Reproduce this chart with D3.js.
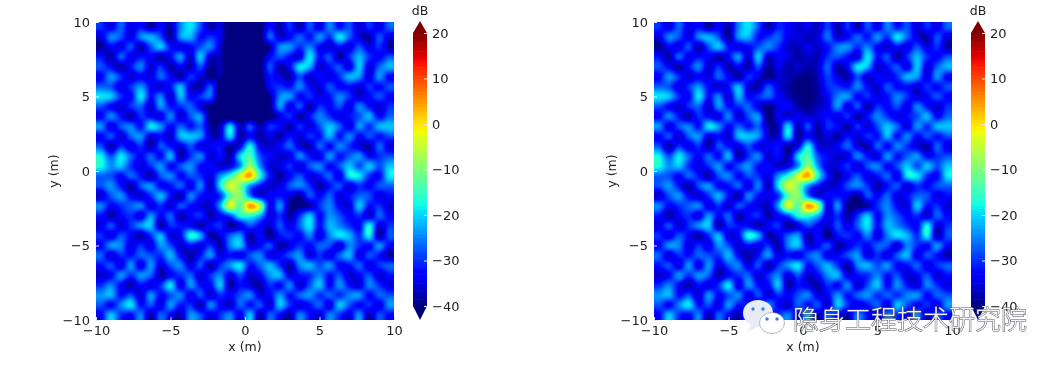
<!DOCTYPE html>
<html>
<head>
<meta charset="utf-8">
<script src="https://cdn.jsdelivr.net/npm/d3@7"></script>
<style>
html, body { margin: 0; background: #fff; overflow: hidden; }
#wrap { position: relative; width: 1060px; height: 366px; }
canvas { position: absolute; filter: blur(0.6px); }
svg { position: absolute; left: 0; top: 0; filter: blur(0.35px); }
text { font-family: "DejaVu Sans", sans-serif; fill: #222; }
</style>
</head>
<body>
<div id="wrap"></div>
<script>
// dB values, one cell = 10px, top row first
const gridLeft = [
[-30,-35,-27,-35,-32,-38,-33,-38,-25,-19,-28,-38,-35,-44,-44,-44,-42,-32,-38,-30,-38,-28,-35,-25,-32,-28,-36,-30,-35,-27],
[-35,-25,-28,-35,-25,-22,-28,-39,-24,-22,-32,-30,-34,-44,-44,-44,-42,-27,-36,-33,-27,-32,-24,-30,-19,-27,-35,-38,-28,-35],
[-39,-33,-35,-28,-38,-28,-21,-32,-35,-33,-28,-25,-36,-44,-44,-44,-42,-38,-25,-24,-30,-25,-33,-36,-32,-35,-28,-35,-30,-38],
[-32,-38,-27,-35,-32,-33,-38,-33,-24,-36,-21,-36,-37,-44,-44,-44,-42,-33,-28,-32,-35,-19,-32,-28,-38,-30,-22,-30,-33,-28],
[-28,-33,-38,-32,-25,-36,-30,-38,-33,-38,-28,-39,-37,-44,-44,-44,-42,-28,-38,-33,-19,-22,-36,-32,-28,-35,-21,-35,-27,-22],
[-33,-24,-30,-36,-33,-35,-27,-33,-38,-30,-35,-40,-38,-44,-44,-44,-42,-32,-35,-38,-28,-36,-32,-35,-30,-22,-24,-35,-24,-33],
[-27,-28,-35,-30,-24,-33,-36,-32,-22,-35,-38,-28,-42,-44,-44,-44,-44,-33,-30,-32,-25,-33,-36,-28,-33,-32,-35,-30,-33,-28],
[-19,-21,-30,-33,-19,-32,-25,-36,-22,-33,-30,-27,-43,-44,-44,-44,-44,-39,-25,-24,-33,-30,-35,-32,-25,-30,-36,-33,-28,-33],
[-28,-33,-36,-30,-27,-36,-24,-32,-30,-27,-35,-40,-43,-44,-44,-44,-44,-40,-24,-35,-28,-38,-30,-33,-28,-35,-25,-32,-36,-30],
[-33,-25,-32,-38,-30,-33,-35,-25,-36,-28,-24,-41,-44,-44,-44,-44,-44,-41,-35,-30,-38,-32,-25,-30,-35,-32,-28,-22,-33,-27],
[-24,-35,-28,-25,-32,-19,-24,-33,-27,-32,-27,-38,-37,-20,-37,-28,-38,-30,-33,-38,-30,-36,-28,-21,-27,-35,-24,-30,-22,-21],
[-33,-28,-36,-27,-24,-35,-32,-36,-22,-21,-24,-36,-36,-20,-38,-33,-38,-35,-38,-32,-36,-30,-32,-22,-32,-25,-33,-28,-32,-28],
[-28,-38,-30,-35,-30,-38,-28,-32,-35,-28,-35,-34,-32,-38,-34,-18,-34,-36,-33,-27,-35,-38,-27,-33,-25,-30,-35,-38,-27,-35],
[-18,-28,-19,-27,-33,-27,-33,-22,-38,-30,-25,-36,-32,-38,-20,-14,-28,-33,-36,-35,-25,-32,-35,-24,-32,-27,-24,-33,-30,-28],
[-17,-24,-21,-30,-35,-30,-24,-33,-28,-24,-32,-33,-36,-34,-24,-8,-24,-35,-35,-30,-36,-28,-25,-33,-28,-21,-28,-21,-28,-21],
[-27,-28,-33,-27,-32,-38,-28,-25,-33,-28,-30,-35,-24,-16,-4,4,-16,-32,-38,-33,-28,-35,-32,-27,-35,-19,-19,-30,-33,-19],
[-28,-24,-32,-38,-28,-24,-33,-32,-27,-35,-25,-37,-19,-4,-10,-24,-32,-36,-35,-28,-25,-30,-38,-32,-28,-36,-30,-33,-28,-27],
[-36,-28,-24,-33,-36,-30,-22,-32,-38,-25,-32,-34,-30,-13,-9,-25,-35,-33,-32,-35,-39,-28,-33,-27,-35,-32,-27,-28,-35,-32],
[-25,-33,-30,-27,-25,-35,-30,-36,-28,-32,-35,-36,-23,-3,-13,5,-6,-35,-24,-39,-40,-38,-30,-25,-33,-35,-21,-32,-30,-36],
[-32,-38,-33,-30,-35,-24,-33,-27,-38,-33,-30,-38,-33,-28,-17,-16,-22,-35,-30,-38,-30,-21,-33,-24,-28,-33,-30,-36,-27,-33],
[-35,-28,-36,-30,-24,-21,-38,-30,-32,-33,-38,-33,-30,-39,-35,-28,-33,-36,-28,-35,-27,-19,-32,-22,-25,-30,-33,-18,-35,-30],
[-30,-35,-28,-33,-38,-30,-22,-35,-33,-17,-22,-38,-35,-27,-24,-38,-32,-40,-32,-30,-33,-25,-35,-25,-19,-22,-30,-18,-38,-28],
[-33,-24,-25,-35,-30,-35,-24,-28,-36,-32,-35,-30,-38,-25,-21,-35,-33,-28,-38,-35,-30,-33,-27,-28,-36,-25,-30,-33,-24,-33],
[-27,-36,-30,-32,-27,-28,-30,-22,-33,-38,-32,-24,-35,-32,-35,-28,-25,-35,-33,-28,-24,-35,-30,-35,-27,-22,-35,-28,-32,-38],
[-32,-28,-35,-24,-35,-24,-35,-28,-25,-35,-28,-38,-30,-24,-19,-32,-27,-22,-30,-38,-25,-22,-28,-24,-33,-32,-27,-35,-30,-27],
[-36,-33,-24,-30,-24,-27,-38,-33,-30,-27,-36,-30,-25,-35,-28,-36,-33,-24,-22,-35,-32,-30,-25,-32,-28,-36,-33,-28,-36,-32],
[-30,-25,-33,-38,-32,-35,-30,-19,-35,-24,-32,-33,-21,-38,-32,-35,-38,-30,-33,-25,-36,-28,-21,-33,-24,-32,-35,-25,-30,-35],
[-24,-22,-32,-28,-36,-24,-33,-28,-25,-35,-28,-36,-30,-33,-28,-25,-35,-33,-24,-32,-27,-24,-30,-27,-30,-25,-24,-33,-27,-28],
[-28,-33,-25,-19,-32,-28,-35,-24,-32,-30,-38,-25,-33,-36,-27,-32,-28,-36,-21,-30,-35,-32,-27,-35,-21,-28,-33,-30,-35,-24],
[-33,-21,-30,-33,-25,-38,-27,-33,-38,-24,-28,-35,-30,-25,-35,-21,-38,-27,-33,-38,-25,-32,-36,-25,-30,-35,-24,-38,-28,-33]
];
// second panel: same scene, only the shadow strip (columns 12-17, rows 0-9) is filled in
const stripCol0 = 12;
const stripRight = [
[-31,-33,-36,-34,-37,-29],
[-27,-34,-35,-37,-35,-26],
[-30,-36,-37,-34,-36,-32],
[-33,-35,-38,-36,-37,-30],
[-34,-38,-36,-38,-36,-27],
[-36,-37,-39,-40,-37,-29],
[-35,-38,-41,-40,-38,-30],
[-33,-37,-40,-41,-38,-33],
[-35,-33,-38,-39,-37,-34],
[-34,-36,-34,-36,-35,-32]
];
const gridRight = gridLeft.map((row, i) => row.map((v, j) => {
    const s = stripRight[i];
    return s && s[j - stripCol0] !== undefined ? s[j - stripCol0] : v;
}));

const xTicks = [-10, -5, 0, 5, 10];
const yTicks = [-10, -5, 0, 5, 10];
const barTicks = [-40, -30, -20, -10, 0, 10, 20];
const panels = [
    { left: 96, grid: gridLeft },
    { left: 654, grid: gridRight }
];

// jet colormap channels
const red = d3.scaleLinear().domain([0, 0.35, 0.66, 0.89, 1]).range([0, 0, 255, 255, 128]).clamp(true);
const green = d3.scaleLinear().domain([0, 0.125, 0.375, 0.64, 0.91, 1]).range([0, 0, 255, 255, 0, 0]).clamp(true);
const blue = d3.scaleLinear().domain([0, 0.11, 0.34, 0.65, 1]).range([128, 255, 255, 0, 0]).clamp(true);
const frac = d3.scaleLinear().domain([-40, 20]).range([0, 1]).clamp(true);
const jet = v => { const f = frac(v); return [red(f), green(f), blue(f)]; };

const wrap = d3.select("#wrap");
const svg = wrap.append("svg").attr("width", 1060).attr("height", 366);

const top0 = 22, size = 298;
const cr = (a, b, c, d, t) => b + 0.5 * t * (c - a + t * (2 * a - 5 * b + 4 * c - d + t * (3 * (b - c) + d - a)));

function drawHeat(p) {
    const n = p.grid.length;
    const xs = d3.scaleLinear().domain([-10, 10]).range([0, size]);
    const ys = d3.scaleLinear().domain([-10, 10]).range([size, 0]);
    const col = d3.scaleLinear().domain([-10, 10]).range([-0.5, n - 0.5]);
    const row = d3.scaleLinear().domain([10, -10]).range([-0.5, n - 0.5]);
    const cv = wrap.insert("canvas", "svg")
        .attr("width", size).attr("height", size)
        .style("left", p.left + "px").style("top", top0 + "px").node();
    const ctx = cv.getContext("2d");
    const img = ctx.createImageData(size, size);
    const at = (i, j) => p.grid[Math.max(0, Math.min(n - 1, i))][Math.max(0, Math.min(n - 1, j))];
    for (let py = 0; py < size; py++) {
        const gy = row(ys.invert(py + 0.5)), i0 = Math.floor(gy), ty = gy - i0;
        for (let px = 0; px < size; px++) {
            const gx = col(xs.invert(px + 0.5)), j0 = Math.floor(gx), tx = gx - j0;
            const rows = [-1, 0, 1, 2].map(k => cr(at(i0 + k, j0 - 1), at(i0 + k, j0), at(i0 + k, j0 + 1), at(i0 + k, j0 + 2), tx));
            const c = jet(cr(rows[0], rows[1], rows[2], rows[3], ty));
            const o = (py * size + px) * 4;
            img.data[o] = c[0]; img.data[o + 1] = c[1]; img.data[o + 2] = c[2]; img.data[o + 3] = 255;
        }
    }
    ctx.putImageData(img, 0, 0);

    const g = svg.append("g").attr("transform", `translate(${p.left},${top0})`);
    const xAxis = g.append("g").attr("transform", `translate(0,${size})`)
        .call(d3.axisBottom(xs).tickValues(xTicks).tickSize(-3).tickPadding(6).tickFormat(d3.format("d")));
    const yAxis = g.append("g")
        .call(d3.axisLeft(ys).tickValues(yTicks).tickSize(-3).tickPadding(6).tickFormat(d3.format("d")));
    [xAxis, yAxis].forEach(a => {
        a.select(".domain").remove();
        a.selectAll("line").attr("stroke", "#dfe8ff");
        a.selectAll("text").attr("font-size", 13).style("font-family", '"DejaVu Sans"');
    });
    xAxis.selectAll("text").attr("dy", "0.71em");
    g.append("text").attr("x", size / 2).attr("y", size + 31).attr("text-anchor", "middle")
        .attr("font-size", 12.5).text("x (m)");
    g.append("text").attr("transform", `translate(-38,${size / 2}) rotate(-90)`).attr("text-anchor", "middle")
        .attr("font-size", 12.5).text("y (m)");

    // colorbar
    const barX = p.left + 317, barW = 14;
    const barY = d3.scaleLinear().domain([-40, 20]).range([306, 33]);
    const cb = svg.append("g");
    cb.selectAll("rect").data(d3.range(-40, 20, 0.5)).join("rect")
        .attr("x", barX).attr("width", barW)
        .attr("y", d => barY(d + 0.5)).attr("height", barY(-40) - barY(-39.5) + 0.6)
        .attr("fill", d => { const c = jet(d + 0.25); return `rgb(${c[0]},${c[1]},${c[2]})`; });
    cb.append("path").attr("d", `M${barX},${barY(20)}L${barX + barW / 2},21L${barX + barW},${barY(20)}Z`).attr("fill", "#7f0000");
    cb.append("path").attr("d", `M${barX},${barY(-40)}L${barX + barW / 2},320L${barX + barW},${barY(-40)}Z`).attr("fill", "#00007f");
    const barAxis = cb.append("g").attr("transform", `translate(${barX + barW},0)`)
        .call(d3.axisRight(barY).tickValues(barTicks).tickSize(-3).tickPadding(5).tickFormat(d3.format("d")));
    barAxis.select(".domain").remove();
    barAxis.selectAll("line").attr("stroke", "#f2f2f2");
    barAxis.selectAll("text").attr("font-size", 13).style("font-family", '"DejaVu Sans"');
    cb.append("text").attr("x", barX + barW / 2).attr("y", 15).attr("text-anchor", "middle")
        .attr("font-size", 12.5).text("dB");
}
panels.forEach(drawHeat);

// watermark
const wm = svg.append("g");
wm.append("path").attr("d", "M748,331L751,324L760,326Z").attr("fill", "#e8ebf8");
wm.append("ellipse").attr("cx", 758).attr("cy", 313).attr("rx", 15).attr("ry", 13).attr("fill", "#e8ebf8");
wm.append("path").attr("d", "M781,335L780,329L773,331Z").attr("fill", "#fff");
wm.append("ellipse").attr("cx", 772).attr("cy", 323).attr("rx", 12.5).attr("ry", 10.5).attr("fill", "#fff").attr("stroke", "#8a8f99").attr("stroke-width", 0.6);
[[753, 309], [763, 309], [767, 319], [777, 319]].forEach(d =>
    wm.append("circle").attr("cx", d[0]).attr("cy", d[1]).attr("r", 1.7).attr("fill", "#3d7fd6"));
wm.append("text").attr("x", 793).attr("y", 329).attr("font-size", 26)
    .style("font-family", '"Noto Sans CJK SC"').style("font-weight", 300)
    .style("fill", "#f4f5fa").style("paint-order", "stroke").attr("stroke", "#55585f").attr("stroke-width", 1)
    .text("隐身工程技术研究院");
</script>
</body>
</html>
